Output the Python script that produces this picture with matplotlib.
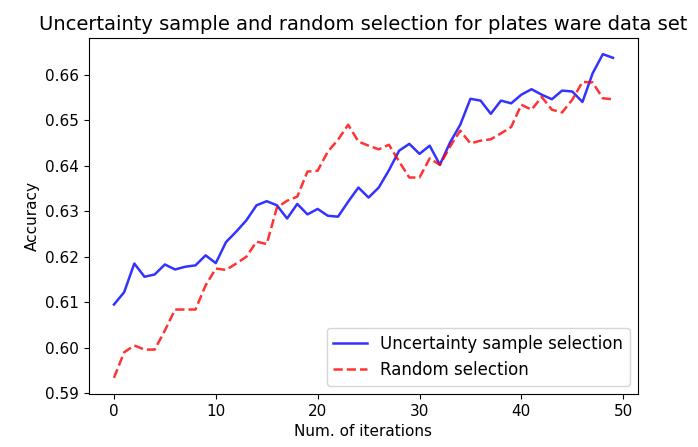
import numpy as np
import matplotlib
matplotlib.use('Agg')
import matplotlib.pyplot as plt

iterations = np.arange(50)

uncertainty_acc = [0.6095, 0.6122, 0.6185, 0.6156, 0.6161, 0.6183, 0.6172, 0.6178, 0.6181, 0.6203,
                   0.6186, 0.6232, 0.6255, 0.6280, 0.6313, 0.6322, 0.6313, 0.6284, 0.6316, 0.6293,
                   0.6305, 0.6290, 0.6288, 0.6321, 0.6352, 0.6330, 0.6352, 0.6390, 0.6433, 0.6448,
                   0.6426, 0.6444, 0.6402, 0.6451, 0.6490, 0.6547, 0.6543, 0.6514, 0.6543, 0.6537,
                   0.6556, 0.6568, 0.6556, 0.6546, 0.6565, 0.6563, 0.6540, 0.6603, 0.6645, 0.6637]

random_acc = [0.5934, 0.5990, 0.6005, 0.5996, 0.5996, 0.6038, 0.6084, 0.6084, 0.6084, 0.6137,
              0.6174, 0.6171, 0.6185, 0.6200, 0.6233, 0.6228, 0.6308, 0.6323, 0.6332, 0.6387,
              0.6389, 0.6431, 0.6457, 0.6490, 0.6453, 0.6444, 0.6436, 0.6446, 0.6409, 0.6374,
              0.6374, 0.6416, 0.6402, 0.6442, 0.6477, 0.6449, 0.6455, 0.6458, 0.6471, 0.6485,
              0.6534, 0.6523, 0.6551, 0.6523, 0.6517, 0.6545, 0.6584, 0.6583, 0.6548, 0.6546]

fig = plt.figure(figsize=(6.98, 4.47), dpi=100)
ax = fig.add_axes([0.1275, 0.1186, 0.7865, 0.7964])
ax.plot(iterations, uncertainty_acc, color='b', alpha=0.8, lw=1.8, label='Uncertainty sample selection')
ax.plot(iterations, random_acc, color='r', alpha=0.8, lw=1.8, linestyle='--', label='Random selection')
ax.set_title('Uncertainty sample and random selection for plates ware data set', fontsize=14)
ax.set_xlabel('Num. of iterations', fontsize=11)
ax.set_ylabel('Accuracy', fontsize=11)
ax.set_yticks([0.59, 0.60, 0.61, 0.62, 0.63, 0.64, 0.65, 0.66])
ax.tick_params(labelsize=11)
ax.legend(loc='lower right', fontsize=12)
fig.savefig('out.png', dpi=100)
